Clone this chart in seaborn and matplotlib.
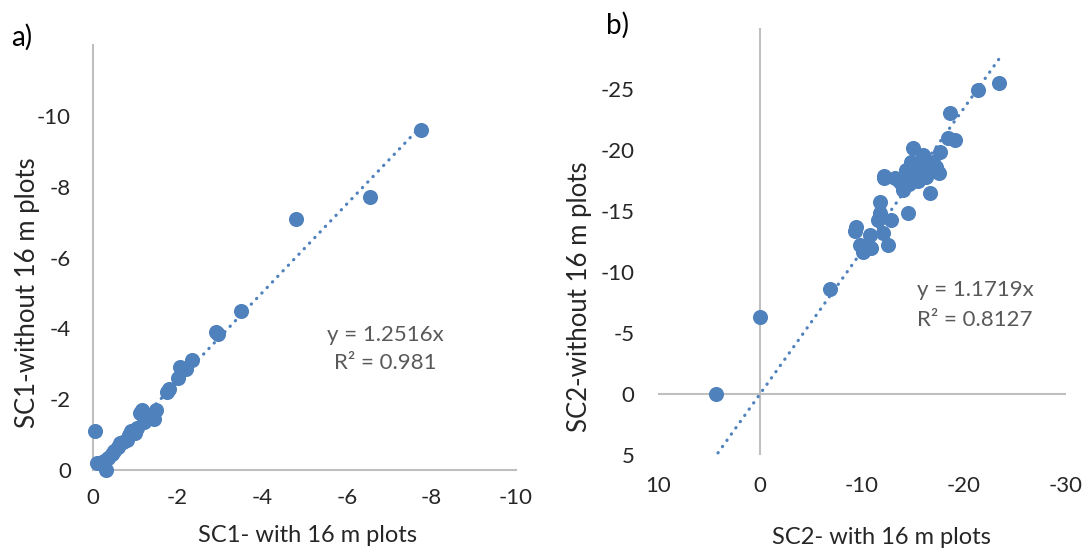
import numpy as np
import pandas as pd
import matplotlib
matplotlib.use("Agg")
import matplotlib.pyplot as plt
import seaborn as sns

# ---------------- data ----------------
sc1_with = [-0.05, -0.1, -0.3, -0.25, -0.35, -0.45, -0.5, -0.6, -0.65, -0.7, -0.8,
            -0.85, -0.9, -1.0, -1.05, -1.1, -1.15, -1.2, -1.25, -1.45, -1.5, -1.75,
            -1.8, -2.0, -2.05, -2.2, -2.35, -2.9, -2.95, -3.5, -4.8, -6.55, -7.75]
sc1_without = [-1.1, -0.2, 0.0, -0.25, -0.35, -0.45, -0.55, -0.65, -0.75, -0.8, -0.85,
               -1.0, -1.1, -1.05, -1.2, -1.6, -1.7, -1.35, -1.5, -1.45, -1.7, -2.2,
               -2.3, -2.6, -2.9, -2.85, -3.1, -3.9, -3.85, -4.5, -7.1, -7.7, -9.6]
sc1_slope = 1.2516
sc1_r2 = 0.981

sc2_with = [4.3, 0.0, -6.9, -9.3, -9.4, -9.8, -10.1, -10.8, -10.9, -12.1, -12.5, -11.6,
            -11.8, -11.8, -12.8, -14.5, -12.2, -12.2, -13.2, -13.7, -14.0, -14.3, -14.8,
            -15.2, -15.5, -15.0, -16.0, -16.3, -16.7, -17.0, -17.3, -17.5, -17.6, -15.5,
            -16.0, -18.4, -19.1, -18.6, -21.4, -23.4, -14.6, -15.8]
sc2_without = [0.0, -6.3, -8.6, -13.4, -13.7, -12.2, -11.6, -13.0, -12.0, -13.2, -12.2, -14.3,
               -15.7, -14.8, -14.3, -14.8, -17.9, -17.7, -17.7, -17.4, -16.7, -18.4, -19.0,
               -18.1, -17.5, -20.2, -19.6, -17.8, -16.5, -19.0, -18.6, -18.1, -19.8, -18.6,
               -18.4, -21.0, -20.8, -23.0, -24.9, -25.5, -17.2, -18.9]
sc2_slope = 1.1719
sc2_r2 = 0.8127

xticks_a = [0, -2, -4, -6, -8, -10]
yticks_a = [0, -2, -4, -6, -8, -10]
xticks_b = [10, 0, -10, -20, -30]
yticks_b = [5, 0, -5, -10, -15, -20, -25]

df_a = pd.DataFrame({"with": sc1_with, "without": sc1_without})
df_b = pd.DataFrame({"with": sc2_with, "without": sc2_without})

# ---------------- style ----------------
sns.set_theme(style="white")
plt.rcParams["font.family"] = ["Lato", "DejaVu Sans"]
plt.rcParams["axes.unicode_minus"] = False

BLUE = "#4f81bd"
GRID = "#bfbfbf"
TXT = "#262626"
ANN = "#595959"
FS = 16
FSX = 17
FSY = 18.5

W, H = 1090, 552
fig = plt.figure(figsize=(W / 100, H / 100), dpi=100)

def fx(px):
    return px / W

def fy(py):
    return 1 - py / H

# panel a
ax1 = fig.add_axes([fx(93), fy(470), fx(516 - 93), (470 - 45) / H])
# panel b
ax2 = fig.add_axes([fx(658), fy(455), fx(1066 - 658), (455 - 28) / H])

def trend(ax, xs, slope):
    xs = np.array([max(xs), min(xs)])
    tl = pd.DataFrame({"x": xs, "y": slope * xs})
    sns.lineplot(data=tl, x="x", y="y", ax=ax, color=BLUE, linewidth=2.3,
                 linestyle=(0, (0.1, 2.3)), dash_capstyle="round", zorder=2)

def scatter(ax, df):
    sns.scatterplot(data=df, x="with", y="without", ax=ax, color=BLUE, s=118,
                    linewidth=0, alpha=1, zorder=3, clip_on=False)

# ---- panel a ----
trend(ax1, sc1_with, sc1_slope)
scatter(ax1, df_a)
ax1.set_xlim(0, -10)
ax1.set_ylim(0, -12)
ax1.set_xticks(xticks_a)
ax1.set_xticklabels([str(t) for t in xticks_a])
ax1.set_yticks(yticks_a)
ax1.set_yticklabels([str(t) for t in yticks_a])
for s in ["top", "right"]:
    ax1.spines[s].set_visible(False)
for s in ["left", "bottom"]:
    ax1.spines[s].set_color(GRID)
    ax1.spines[s].set_linewidth(1.5)
    ax1.spines[s].set_zorder(1)
ax1.tick_params(axis="x", length=0, pad=13, labelsize=FS, labelcolor=TXT)
ax1.tick_params(axis="y", length=0, pad=16, labelsize=FS, labelcolor=TXT)
ax1.set_xlabel("SC1- with 16 m plots", fontsize=FSX, color=TXT, va="center")
ax1.xaxis.set_label_coords((308 - 93) / 423, (470 - 535) / 425)
ax1.set_ylabel("SC1-without 16 m plots", fontsize=FSY, color=TXT, va="center")
ax1.yaxis.set_label_coords((28 - 93) / 423, (470 - 293) / 425)

# ---- panel b ----
ax2.axhline(0, color=GRID, linewidth=1.5, zorder=1)
ax2.axvline(0, color=GRID, linewidth=1.5, zorder=1)
trend(ax2, sc2_with, sc2_slope)
scatter(ax2, df_b)
ax2.set_xlim(10, -30)
ax2.set_ylim(5, -30)
ax2.set_xticks(xticks_b)
ax2.set_xticklabels([str(t) for t in xticks_b])
ax2.set_yticks(yticks_b)
ax2.set_yticklabels([str(t) for t in yticks_b])
for s in ax2.spines.values():
    s.set_visible(False)
ax2.tick_params(axis="x", length=0, pad=15, labelsize=FS, labelcolor=TXT)
ax2.tick_params(axis="y", length=0, pad=17, labelsize=FS, labelcolor=TXT)
ax2.set_xlabel("SC2- with 16 m plots", fontsize=FSX, color=TXT, va="center")
ax2.xaxis.set_label_coords((881 - 658) / 408, (455 - 538) / 427)
ax2.set_ylabel("SC2-without 16 m plots", fontsize=FSY, color=TXT, va="center")
ax2.yaxis.set_label_coords((580 - 658) / 408, (455 - 297) / 427)

# trendline labels
fig.text(fx(385), fy(335), f"y = {sc1_slope}x", ha="center", va="center",
         fontsize=FS, color=ANN)
fig.text(fx(385), fy(363), f"R² = {sc1_r2}", ha="center", va="center",
         fontsize=FS, color=ANN)
fig.text(fx(975), fy(290), f"y = {sc2_slope}x", ha="center", va="center",
         fontsize=FS, color=ANN)
fig.text(fx(975), fy(320), f"R² = {sc2_r2}", ha="center", va="center",
         fontsize=FS, color=ANN)

# panel letters
fig.text(fx(22), fy(37), "a)", ha="center", va="center", fontsize=20, color="#000000")
fig.text(fx(618), fy(25), "b)", ha="center", va="center", fontsize=20, color="#000000")

fig.savefig("out.png", dpi=100, facecolor="white")
